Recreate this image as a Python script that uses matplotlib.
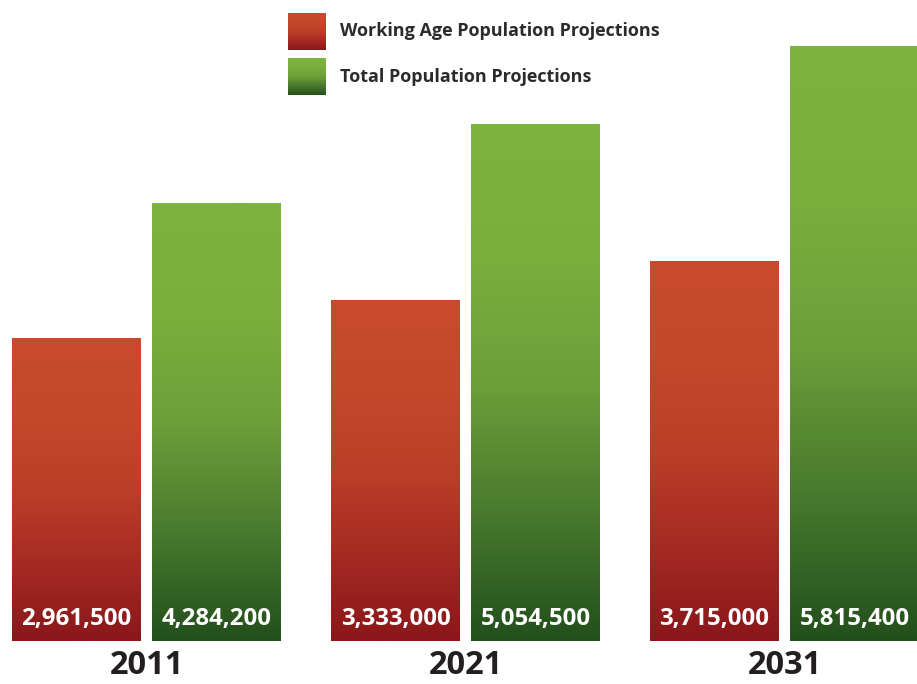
import numpy as np
import matplotlib.pyplot as plt
from matplotlib.colors import LinearSegmentedColormap

# Data
years = ["2011", "2021", "2031"]
working_age = [2961500, 3333000, 3715000]
total_pop = [4284200, 5054500, 5815400]
series_names = ["Working Age Population Projections", "Total Population Projections"]

# Gradients (bottom -> top)
red_cmap = LinearSegmentedColormap.from_list(
    "red", [(0, "#8a171b"), (0.25, "#a52a22"), (0.5, "#bb3f28"),
            (0.75, "#c4482b"), (1, "#c74b2c")])
green_cmap = LinearSegmentedColormap.from_list(
    "green", [(0, "#234f1c"), (0.25, "#4a7a2e"), (0.5, "#6d9f39"),
              (0.75, "#7aaf3d"), (1, "#7eb33f")])

fig = plt.figure(figsize=(9.17, 6.84), dpi=100)
ax = fig.add_axes([0, 43 / 684, 1, 612.9 / 684])
ax.axis("off")

grad = np.linspace(0, 1, 256).reshape(-1, 1)
width = 129 / 319
offset = 70 / 319
px = 6000000 / 612.9  # data units per pixel

value_labels = []
for i, yr in enumerate(years):
    for val, cmap, dx in [(working_age[i], red_cmap, -offset),
                          (total_pop[i], green_cmap, offset)]:
        x0 = i + dx - width / 2
        ax.imshow(grad, cmap=cmap, origin="lower", aspect="auto",
                  extent=(x0, x0 + width, 0, val), interpolation="bilinear")
        t = ax.text(i + dx, 22 * px, f"{val:,}", color="white", ha="center",
                    va="center", fontsize=18, fontweight="bold",
                    family="Open Sans")
        value_labels.append(t)
    ax.text(i, -33 * px, yr, ha="center", va="baseline", fontsize=23.5,
            fontweight="bold", color="#231f20", family="Open Sans",
            clip_on=False)

ax.set_xlim(-146.5 / 319, (917 - 146.5) / 319)
ax.set_ylim(0, 6000000)

# Legend
lax = fig.add_axes([0, 0, 1, 1])
lax.axis("off")
lax.patch.set_alpha(0)
for k, (name, cmap) in enumerate(zip(series_names, [red_cmap, green_cmap])):
    top = 13 + k * 45
    lax.imshow(grad, cmap=cmap, origin="lower", aspect="auto",
               extent=(288, 326, top + 37, top), interpolation="bilinear")
    lax.text(340, top + 18.5, name, ha="left", va="center", fontsize=13,
             fontweight="bold", color="#2b2b2b", family="Open Sans")
lax.set_xlim(0, 917)
lax.set_ylim(684, 0)

# Fit value labels inside the bars (about 110 px wide)
fig.canvas.draw()
renderer = fig.canvas.get_renderer()
w = value_labels[0].get_window_extent(renderer).width
for t in value_labels:
    t.set_fontsize(t.get_fontsize() * 110 / w)

plt.savefig("out.png", dpi=100)
